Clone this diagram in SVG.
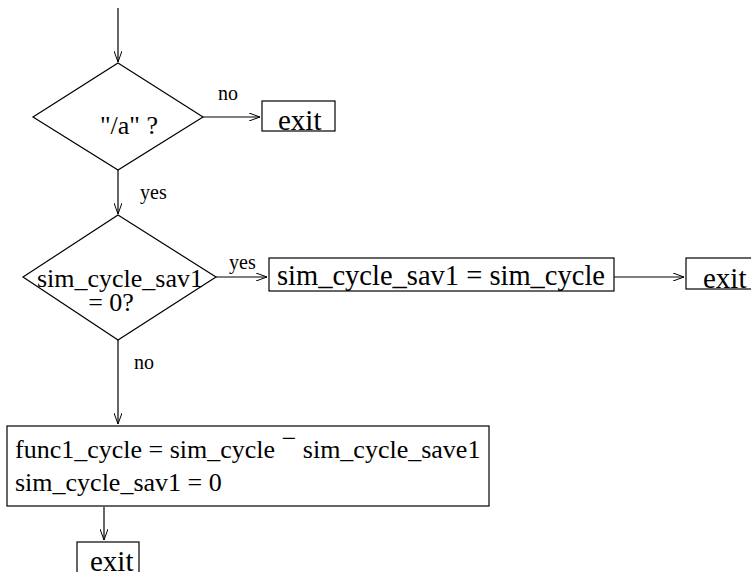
<svg xmlns="http://www.w3.org/2000/svg" width="751" height="572" viewBox="0 0 751 572">
  <style>
    .shape { fill: none; stroke: #000; stroke-width: 1.2; }
    .box { fill: #fff; stroke: #000; stroke-width: 1.2; }
    .edge { fill: none; stroke: #000; stroke-width: 1.2; marker-end: url(#arrow); }
    .big { font-family: "Liberation Serif", "Times New Roman", serif; font-size: 29px; fill: #000; }
    .mid { font-family: "Liberation Serif", "Times New Roman", serif; font-size: 26px; fill: #000; }
    .small { font-family: "Liberation Serif", "Times New Roman", serif; font-size: 20px; fill: #000; }
  </style>
  <defs>
    <marker id="arrow" markerWidth="12" markerHeight="8" refX="11" refY="4" orient="auto" markerUnits="userSpaceOnUse">
      <path d="M0,0 L11,4 L0,8" fill="none" stroke="#000" stroke-width="1"/>
    </marker>
  </defs>

  <g id="connectors">
    <line class="edge" x1="118" y1="8" x2="118" y2="62"/>
    <line class="edge" x1="203" y1="117" x2="260" y2="117"/>
    <line class="edge" x1="118" y1="170" x2="118" y2="214"/>
    <line class="edge" x1="216" y1="277" x2="267" y2="277"/>
    <line class="edge" x1="614" y1="277" x2="684" y2="277"/>
    <line class="edge" x1="118" y1="340" x2="118" y2="424"/>
    <line class="edge" x1="104" y1="507" x2="104" y2="540"/>
    <text class="small" x="218" y="100">no</text>
    <text class="small" x="140" y="199">yes</text>
    <text class="small" x="229" y="269">yes</text>
    <text class="small" x="134" y="369">no</text>
  </g>

  <g id="decision-a">
    <polygon class="shape" points="118,63 203,117 118,170 33,117"/>
    <text class="mid" x="129" y="134" text-anchor="middle">"/a" ?</text>
  </g>

  <g id="exit-1">
    <rect class="box" x="262" y="101" width="73" height="30"/>
    <text class="big" x="278" y="130">exit</text>
  </g>

  <g id="decision-sav">
    <polygon class="shape" points="118,215 216,277 118,340 23,277"/>
    <text class="mid" x="120" y="287" text-anchor="middle">sim_cycle_sav1</text>
    <text class="mid" x="111" y="311" text-anchor="middle">=  0?</text>
  </g>

  <g id="assign-sav">
    <rect class="box" x="269" y="258" width="345" height="33"/>
    <text class="big" x="277" y="285" textLength="328" lengthAdjust="spacingAndGlyphs">sim_cycle_sav1 = sim_cycle</text>
  </g>

  <g id="exit-2">
    <rect class="box" x="686" y="258" width="70" height="31"/>
    <text class="big" x="703" y="288">exit</text>
  </g>

  <g id="compute">
    <rect class="box" x="7" y="426" width="482" height="80"/>
    <text class="mid" x="15" y="458">func1_cycle =  sim_cycle <tspan dy="-11">−</tspan><tspan dy="11">  sim_cycle_save1</tspan></text>
    <text class="mid" x="15" y="491">sim_cycle_sav1 =  0</text>
  </g>

  <g id="exit-3">
    <rect class="box" x="77" y="542" width="62" height="32"/>
    <text class="big" x="90" y="571">exit</text>
  </g>
</svg>
